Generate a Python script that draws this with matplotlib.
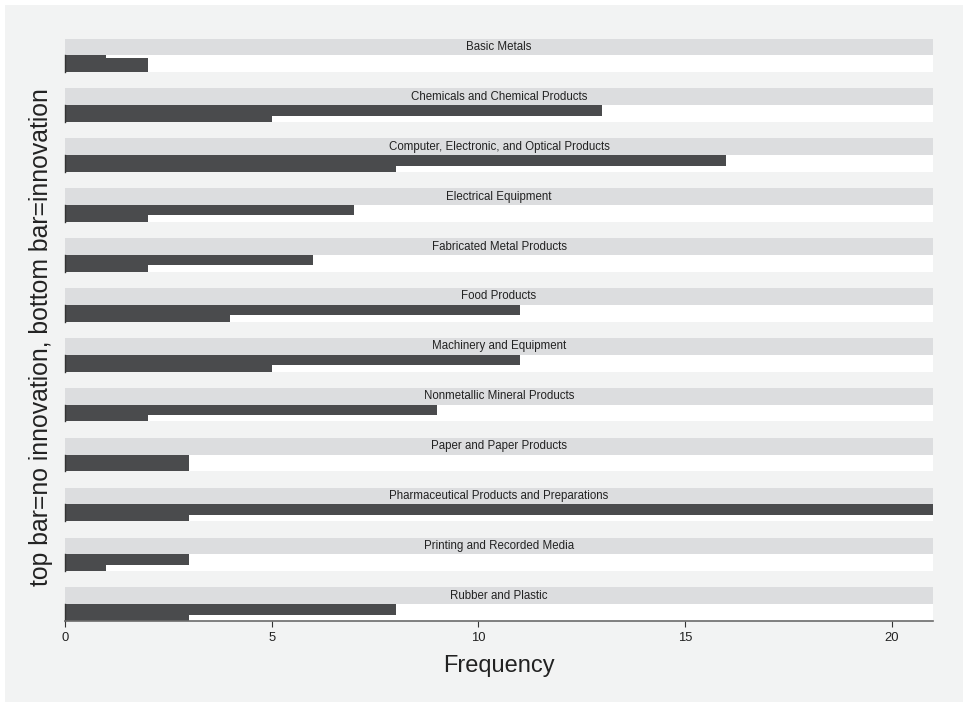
import matplotlib
matplotlib.use("Agg")
import matplotlib.pyplot as plt
from matplotlib.patches import Rectangle

# Industries and counts of firms, split by innovation status
industries = [
    "Basic Metals",
    "Chemicals and Chemical Products",
    "Computer, Electronic, and Optical Products",
    "Electrical Equipment",
    "Fabricated Metal Products",
    "Food Products",
    "Machinery and Equipment",
    "Nonmetallic Mineral Products",
    "Paper and Paper Products",
    "Pharmaceutical Products and Preparations",
    "Printing and Recorded Media",
    "Rubber and Plastic",
]
no_innovation = [1, 13, 16, 7, 6, 11, 11, 9, 3, 21, 3, 8]
innovation = [2, 5, 8, 2, 2, 4, 5, 2, 3, 3, 1, 3]
x_ticks = [0, 5, 10, 15, 20]
x_max = 21

plt.rcParams["font.family"] = ["Liberation Sans", "DejaVu Sans"]

W, H = 963, 702
fig = plt.figure(figsize=(W / 100, H / 100), dpi=100, facecolor="white")

BG = "#f2f3f3"
STRIP = "#dcdddf"
BAR = "#4a4b4d"
TXT = "#222222"

# light grey graph region
fig.add_artist(Rectangle((5 / W, 0), 1 - 5 / W, (H - 5) / H,
                         transform=fig.transFigure, facecolor=BG,
                         edgecolor="none", zorder=-10))

left, right = 65, 933
pitch = 49.9
top0 = 38.5
strip_h = 16.8
plot_h = 16.8


def fy(y_px):
    return 1 - y_px / H


n = len(industries)
for i, name in enumerate(industries):
    t = top0 + pitch * i
    # strip with title
    sax = fig.add_axes([left / W, fy(t + strip_h), (right - left) / W, strip_h / H])
    sax.set_facecolor(STRIP)
    sax.set_xticks([])
    sax.set_yticks([])
    for s in sax.spines.values():
        s.set_visible(False)
    sax.text(0.5, 0.5, name, ha="center", va="center", fontsize=8.3,
             color=TXT, transform=sax.transAxes)

    # plot region with two bars
    pt = t + strip_h
    ax = fig.add_axes([left / W, fy(pt + plot_h), (right - left) / W, plot_h / H])
    ax.set_facecolor("white")
    ax.set_xlim(0, x_max)
    ax.set_ylim(0, 1)
    ax.barh([0.69], [no_innovation[i]], height=0.62, color=BAR,
            edgecolor="none", zorder=2)
    ax.barh([0.43], [innovation[i]], height=0.86, color=BAR,
            edgecolor="none", zorder=2)
    ax.set_yticks([])
    for s in ("top", "right", "bottom"):
        ax.spines[s].set_visible(False)
    ax.spines["left"].set_color("#333333")
    ax.spines["left"].set_linewidth(1.0)
    if i == n - 1:
        ax.spines["bottom"].set_visible(True)
        ax.spines["bottom"].set_color("#6b6b6b")
        ax.spines["bottom"].set_linewidth(1.2)
        ax.set_xticks(x_ticks)
        ax.set_xticklabels([str(v) for v in x_ticks])
        ax.tick_params(axis="x", direction="out", length=4, width=0.8,
                       color="#333333", pad=4, labelsize=9.4, labelcolor=TXT)
    else:
        ax.set_xticks([])

fig.text(499 / W, fy(672), "Frequency", ha="center", va="baseline",
         fontsize=17, color=TXT)
fig.text(41.5 / W, fy(337), "top bar=no innovation, bottom bar=innovation",
         ha="center", va="center", rotation=90, fontsize=17.8, color=TXT)

fig.savefig("out.png", dpi=100, facecolor="white")
